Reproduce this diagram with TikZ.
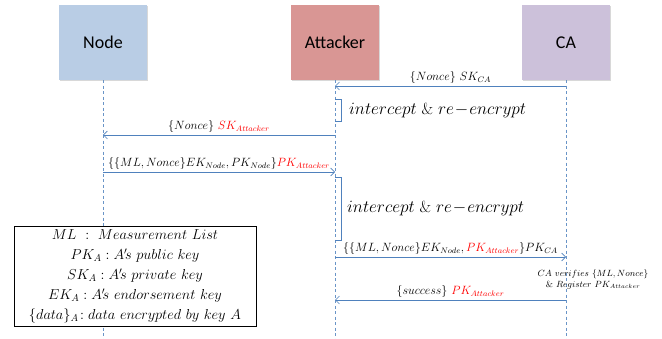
\documentclass[tikz,border=0pt]{standalone}
\usepackage{fontspec}
\usepackage{amsmath}
\setsansfont{Carlito}
\usetikzlibrary{arrows.meta, shadows, positioning}
\definecolor{nodeblue}{RGB}{185,205,229}
\definecolor{attred}{RGB}{217,150,148}
\definecolor{capurple}{RGB}{204,193,218}
\definecolor{lineblue}{RGB}{79,129,189}
\tikzset{
  actor/.style={minimum width=88pt, minimum height=75pt, inner sep=0pt,
    font=\sffamily\fontsize{18}{22}\selectfont,
    drop shadow={shadow xshift=1.2pt, shadow yshift=-1.2pt, fill=black!30}},
  lifeline/.style={draw=lineblue!85, dash pattern=on 3pt off 2.5pt, line width=0.6pt},
  msg/.style={draw=lineblue, line width=0.7pt, -{Straight Barb[length=4pt, width=8pt]}},
  lbl/.style={above=1pt, inner sep=1pt, font=\fontsize{12}{14}\selectfont},
  bracket/.style={draw=lineblue, line width=0.7pt},
  note/.style={anchor=west, inner sep=0pt, font=\fontsize{16}{19}\selectfont},
}

\begin{document}
\begin{tikzpicture}[x=1pt, y=-1pt]
        \useasboundingbox (0,0) rectangle (662,339);

        % Actors
        \node[actor, fill=nodeblue] (nodebox) at (103,42.5) {Node};
        \node[actor, fill=attred] (attbox) at (335,42.5) {Attacker};
        \node[actor, fill=capurple] (cabox) at (566,42.5) {CA};

        % Lifelines
        \draw[lifeline] (nodebox.south) -- (nodebox |- 0,339);
        \draw[lifeline] (attbox.south) -- (attbox |- 0,339);
        \draw[lifeline] (cabox.south) -- (cabox |- 0,339);

        % Messages
        \draw[msg] (cabox |- 0,86) -- node[lbl] {$\{Nonce\}\ SK_{CA}$} (attbox |- 0,86);
        \draw[bracket] (attbox |- 0,99) -- ++(6,0) -- ++(0,22) -- ++(-6,0);
        \node[note] (note1) at (349,111) {$intercept\ \&\ re\!-\!encrypt$};

        \draw[msg] (attbox |- 0,135) -- node[lbl] {$\{Nonce\}\ \color{red}SK_{Attacker}$} (nodebox |- 0,135);
        \draw[msg] (nodebox |- 0,172) -- node[lbl] {$\{\{ML,Nonce\}EK_{Node},PK_{Node}\}\color{red}PK_{Attacker}$} (attbox |- 0,172);

        \draw[bracket] (attbox |- 0,177) -- ++(6,0) -- ++(0,63) -- ++(-6,0);
        \node[note] (note2) at (347,209) {$intercept\ \&\ re\!-\!encrypt$};

        \draw[msg] (attbox |- 0,257) -- node[lbl] {$\{\{ML,Nonce\}EK_{Node},{\color{red}PK_{Attacker}}\}PK_{CA}$} (cabox |- 0,257);
        \node[align=center, inner sep=0pt, font=\fontsize{9}{11}\selectfont] (verify) at (593,279.5)
          {$CA\ verifies\ \{ML,Nonce\}$\\ $\&\ Register\ PK_{Attacker}$};
        \draw[msg] (cabox |- 0,300) -- node[lbl] {$\{success\}\ \color{red}PK_{Attacker}$} (attbox |- 0,300);

        % Legend
        \node[draw, line width=0.8pt, fill=white, minimum width=242pt, minimum height=95pt,
              align=center, font=\fontsize{14.4}{17}\selectfont] (legend) at (135,276.5)
          {$ML\ :\ Measurement\ List$\\[3pt]
           $PK_A : A'\!s\ public\ key$\\[3pt]
           $SK_A : A'\!s\ private\ key$\\[3pt]
           $EK_A : A'\!s\ endorsement\ key$\\[3pt]
           $\{data\}_A\!: data\ encrypted\ by\ key\ A$};
    \end{tikzpicture}
\end{document}
